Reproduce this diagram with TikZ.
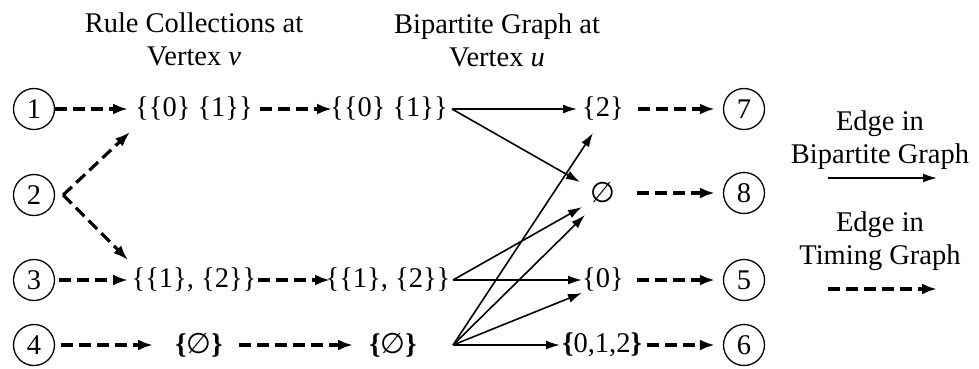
\documentclass[tikz,border=0pt]{standalone}
\usepackage{fontspec}
\setmainfont{Liberation Serif}
\newfontfamily\symfnt{DejaVu Sans}
\usetikzlibrary{arrows.meta,calc}
\newcommand{\es}{{\symfnt\fontseries{m}\selectfont ∅}}
\begin{document}
\begin{tikzpicture}[x=1pt,y=-1pt,
  every node/.style={font=\fontsize{28.5}{33}\selectfont},
  lbl/.style={inner sep=0pt},
  vtx/.style={circle,draw,line width=1.3pt,minimum size=41pt,inner sep=0pt},
  tarrow/.style={line width=3.2pt,dash pattern=on 12pt off 6pt,-{Latex[length=15pt,width=11pt]}},
  barrow/.style={line width=1.6pt,-{Latex[length=14pt,width=9pt]}}]
\useasboundingbox (0,0) rectangle (979,368);
% titles
\node[lbl,align=center] (t1) at (194,39) {Rule Collections at\\Vertex \textit{v}};
\node[lbl,align=center] (t2) at (497,40) {Bipartite Graph at\\Vertex \textit{u}};
% vertices
\node[vtx] (n1) at (34,109) {1};
\node[vtx] (n2) at (34,195) {2};
\node[vtx] (n3) at (34,280) {3};
\node[vtx] (n4) at (34,345) {4};
\node[vtx] (n7) at (744,109) {7};
\node[vtx] (n8) at (744,193) {8};
\node[vtx] (n5) at (744,280) {5};
\node[vtx] (n6) at (744,345) {6};
% sets
\node[lbl] (A1) at (194,109) {\{\{0\} \{1\}\}};
\node[lbl] (B1) at (389,109) {\{\{0\} \{1\}\}};
\node[lbl] (A3) at (194,280) {\{\{1\}, \{2\}\}};
\node[lbl] (B3) at (388,280) {\{\{1\}, \{2\}\}};
\node[lbl] (A4) at (199,345) {\textbf{\{}\es\textbf{\}}};
\node[lbl] (B4) at (393,345) {\textbf{\{}\es\textbf{\}}};
\node[lbl] (C1) at (603,109) {\{2\}};
\node[lbl] (C2) at (603,193) {\es};
\node[lbl] (C3) at (603,280) {\{0\}};
\node[lbl] (C4) at (602,345) {\textbf{\{}0,1,2\textbf{\}}};
% legend
\node[lbl,align=center] (L1) at (880,140) {Edge in\\Bipartite Graph};
\node[lbl,align=center] (L2) at (880,241) {Edge in\\Timing Graph};
\coordinate (s1) at (828,178);
\coordinate (e1) at (937,178);
\coordinate (s2) at (828,289);
\coordinate (e2) at (937,289);
\draw[barrow] (s1) -- (e1);
\draw[tarrow] (s2) -- (e2);
% timing graph edges
\coordinate (v2) at ($(n2.east)+(8,0)$);
\draw[tarrow] (n1.east) -- ($(A1.center)+(-66,0)$);
\draw[tarrow] ($(A1.center)+(66,0)$) -- ($(B1.center)+(-57,0)$);
\draw[tarrow] (v2) -- ($(A1.center)+(-64,23)$);
\draw[tarrow] (v2) -- ($(A3.center)+(-66,-20)$);
\draw[tarrow] ($(n3.east)+(4,0)$) -- ($(A3.center)+(-66,0)$);
\draw[tarrow] ($(A3.center)+(64,0)$) -- ($(B3.center)+(-58,0)$);
\draw[tarrow] ($(n4.east)+(6,0)$) -- ($(A4.center)+(-46,0)$);
\draw[tarrow] ($(A4.center)+(40,0)$) -- ($(B4.center)+(-40,0)$);
\draw[tarrow] ($(C1.center)+(35,0)$) -- ($(n7.west)+(-8,0)$);
\draw[tarrow] ($(C2.center)+(34,0)$) -- ($(n8.west)+(-8,0)$);
\draw[tarrow] ($(C3.center)+(34,0)$) -- ($(n5.west)+(-8,0)$);
\draw[tarrow] ($(C4.center)+(45,0)$) -- ($(n6.west)+(-8,0)$);
% bipartite graph edges
\draw[barrow] ($(B1.center)+(63,0)$) -- ($(C1.center)+(-26,0)$);
\draw[barrow] ($(B1.center)+(63,0)$) -- ($(C2.center)+(-23,-11)$);
\draw[barrow] ($(B3.center)+(65,0)$) -- ($(C2.center)+(-21,14)$);
\draw[barrow] ($(B3.center)+(65,0)$) -- ($(C3.center)+(-21,0)$);
\draw[barrow] ($(B4.center)+(60,0)$) -- ($(C1.center)+(-10,24)$);
\draw[barrow] ($(B4.center)+(60,0)$) -- ($(C2.center)+(-18,22)$);
\draw[barrow] ($(B4.center)+(60,0)$) -- ($(C3.center)+(-21,13)$);
\draw[barrow] ($(B4.center)+(60,0)$) -- ($(C4.center)+(-42,0)$);
\end{tikzpicture}
\end{document}
